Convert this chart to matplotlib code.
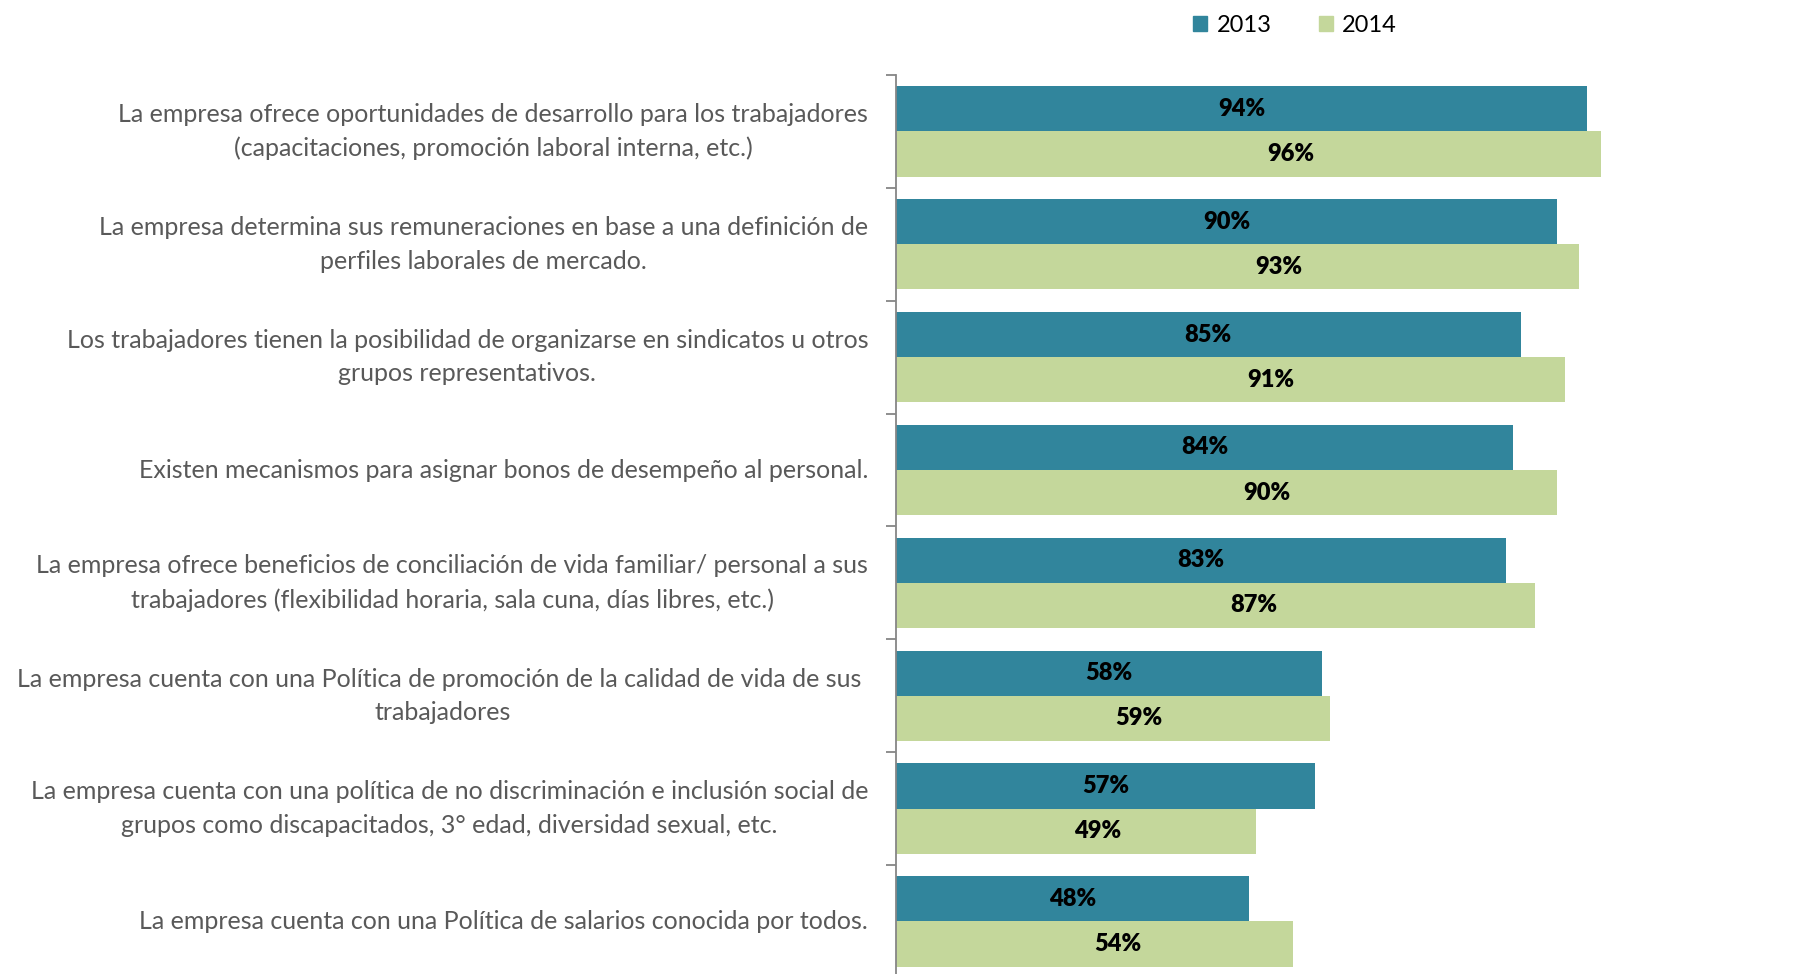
import numpy as np
import matplotlib
matplotlib.use("Agg")
from matplotlib import pyplot as plt
from matplotlib.patches import Patch

# categories (top to bottom) and values
categorias = [
    "La empresa ofrece oportunidades de desarrollo para los trabajadores\n(capacitaciones, promoción laboral interna, etc.)",
    "La empresa determina sus remuneraciones en base a una definición de\nperfiles laborales de mercado.",
    "Los trabajadores tienen la posibilidad de organizarse en sindicatos u otros\ngrupos representativos.",
    "Existen mecanismos para asignar bonos de desempeño al personal.",
    "La empresa ofrece beneficios de conciliación de vida familiar/ personal a sus\ntrabajadores (flexibilidad horaria, sala cuna, días libres, etc.)",
    "La empresa cuenta con una Política de promoción de la calidad de vida de sus \ntrabajadores",
    "La empresa cuenta con una política de no discriminación e inclusión social de\ngrupos como discapacitados, 3° edad, diversidad sexual, etc.",
    "La empresa cuenta con una Política de salarios conocida por todos.",
]
valores_2013 = [0.94, 0.90, 0.85, 0.84, 0.83, 0.58, 0.57, 0.48]
valores_2014 = [0.96, 0.93, 0.91, 0.90, 0.87, 0.59, 0.49, 0.54]
series = ["2013", "2014"]

color_2013 = "#31859c"
color_2014 = "#c4d79b"
gris = "#595959"

plt.rcParams['font.family'] = ['Lato', 'DejaVu Sans']

fig = plt.figure(figsize=(18.01, 9.74), dpi=100)
ax = fig.add_axes([0.4975, -0.004, 0.408, 0.927])

y = np.arange(len(categorias))
alto = 0.4
b1 = ax.barh(y - alto / 2, valores_2013, height=alto, color=color_2013)
b2 = ax.barh(y + alto / 2, valores_2014, height=alto, color=color_2014)

# value labels: 2013 centred, 2014 a bit to the right of centre (as in the original)
for barras, vals, frac in ((b1, valores_2013, 0.5), (b2, valores_2014, 0.56)):
    for b, v in zip(barras, vals):
        ax.text(b.get_width() * frac, b.get_y() + b.get_height() / 2,
                f"{v * 100:.0f}%", ha="center", va="center",
                fontsize=17, fontweight="heavy", color="black")

ax.set_xlim(0, 1)
ax.set_ylim(len(categorias) - 0.5, -0.5)

# ticks at the group boundaries, labels in the middle
ax.set_yticks(np.arange(len(categorias) + 1) - 0.5)
ax.set_yticklabels([])
ax.set_yticks(y, minor=True)
etiquetas = ax.set_yticklabels(categorias, minor=True, fontsize=18, color=gris,
                               ha="right", multialignment="center", linespacing=1.55)
for t in etiquetas:
    t.set_va("center")
ax.tick_params(axis="y", which="minor", length=0, pad=20)
ax.tick_params(axis="y", which="major", length=7, width=1.3, color="#868686")
ax.set_xticks([])

for s in ("top", "right", "bottom"):
    ax.spines[s].set_visible(False)
ax.spines["left"].set_color("#868686")
ax.spines["left"].set_linewidth(1.3)

handles = [Patch(color=color_2013), Patch(color=color_2014)]
fig.legend(handles, series, loc="center", bbox_to_anchor=(0.719, 0.974),
           ncol=2, frameon=False, fontsize=17, handlelength=0.6,
           handleheight=0.6, handletextpad=0.4, columnspacing=2.0)

fig.savefig("out.png", dpi=100)
